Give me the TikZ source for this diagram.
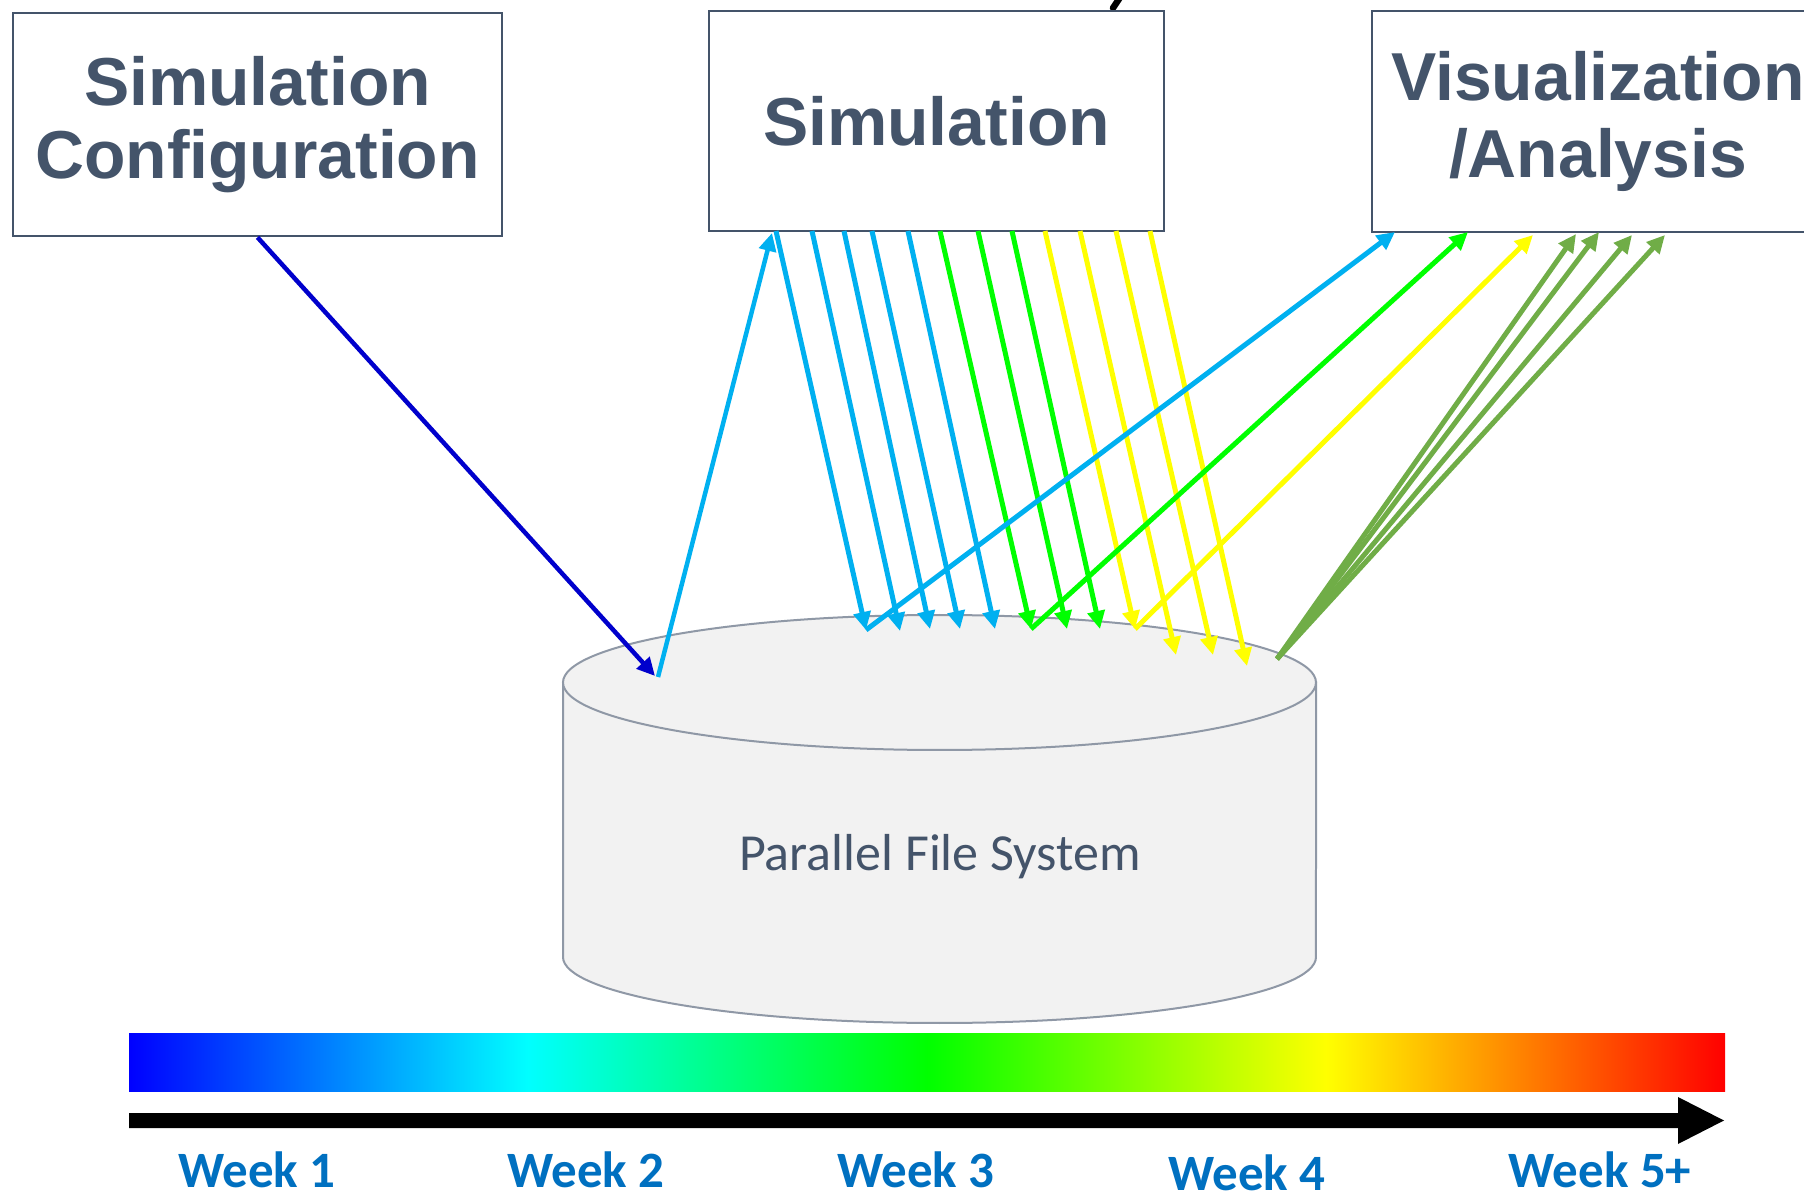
\documentclass[tikz,border=0pt]{standalone}
\usepackage{fontspec}
\setmainfont{Liberation Sans}
\newfontfamily\calfont{Carlito}
\usetikzlibrary{arrows.meta}
\definecolor{slate}{HTML}{44546A}
\definecolor{arrblue}{HTML}{00B0F0}
\definecolor{darkblue}{HTML}{0000CC}
\definecolor{arrgreen}{HTML}{00FF00}
\definecolor{arryellow}{HTML}{FFFF00}
\definecolor{olivegreen}{HTML}{70AD47}
\definecolor{weekblue}{HTML}{0070C0}
\definecolor{cylfill}{HTML}{F2F2F2}
\definecolor{cylline}{HTML}{8F98A6}
\pgfdeclarehorizontalshading{jetbar}{100bp}{color(0bp)=(blue); color(25bp)=(blue); color(37.5bp)=(cyan); color(50bp)=(green); color(62.5bp)=(yellow); color(75bp)=(red); color(100bp)=(red)}
\begin{document}
\begin{tikzpicture}[x=0.1mm,y=-0.1mm,
  box/.style={draw=slate, line width=0.27mm, fill=white, inner sep=0pt, align=center, text=slate,
    font=\fontsize{19.3}{20.8}\selectfont\bfseries},
  flow/.style={line width=0.5mm, -{Triangle[length=1.8mm,width=1.7mm]}},
  week/.style={text=weekblue, font=\calfont\fontsize{14.5}{16}\selectfont\bfseries, inner sep=0pt, text depth=0pt, anchor=base}]
\useasboundingbox (0,0) rectangle (1804,1200);
\fill[white] (0,0) rectangle (1804,1200);

% fragment of a cut-off glyph at the top
\draw[line width=0.65mm, black, line cap=round] (1113,8) -- (1121,-4);

% boxes
\node[box, minimum width=48.9mm, minimum height=22.3mm] (cfg) at (257.5,124.5) {Simulation\\Configuration};
\node[box, minimum width=45.5mm, minimum height=22mm] (sim) at (936.5,121) {Simulation};
\node[box, minimum width=45.2mm, minimum height=22.1mm, font=\fontsize{19.3}{21.9}\selectfont\bfseries] (vis) at (1598,121.5) {Visualization\\/Analysis};

% cylinder
\filldraw[fill=cylfill, draw=cylline, line width=0.2mm] (563,682.5) -- (563,957)
  arc[start angle=180, end angle=360, x radius=37.65mm, y radius=6.6mm] -- (1316,682.5) -- cycle;
\filldraw[fill=cylfill, draw=cylline, line width=0.2mm] (939.5,682.5) ellipse[x radius=37.65mm, y radius=6.75mm];
\node[font=\calfont\fontsize{14.8}{16}\selectfont, text=slate, inner sep=0pt, anchor=base] (pfs) at (940,870) {Parallel File System};

% config -> storage, storage -> simulation
\coordinate (pfsin) at (655,676);
\coordinate (pfsout) at (658,677);
\coordinate (simin) at (772,233);
\draw[flow, darkblue, line width=0.45mm] (cfg.south) -- (pfsin);
\draw[flow, arrblue, line width=0.45mm] (pfsout) -- (simin);

% simulation -> storage (outputs)
\foreach \i/\sx/\ex/\ey/\c in {1/776/866/630/arrblue, 2/812/900/631/arrblue, 3/844/930/629/arrblue,
  4/872/960/629/arrblue, 5/908/995/629/arrblue, 6/940/1031/629/arrgreen, 7/978/1067/629/arrgreen,
  8/1012/1100/629/arrgreen, 9/1045/1135/629/arryellow, 10/1080/1176/655/arryellow,
  11/1116/1213/655/arryellow, 12/1150/1247/666/arryellow}{
  \coordinate (s\i) at (\sx,231);
  \coordinate (t\i) at (\ex,\ey);
  \draw[flow, \c] (s\i) -- (t\i);
}

% storage -> visualization
\coordinate (va) at (1395,232);
\coordinate (vb) at (1468,232);
\coordinate (vc) at (1533,235);
\coordinate (ol) at (1277,659);
\coordinate (vd) at (1576,234);
\coordinate (ve) at (1599,232);
\coordinate (vf) at (1632,235);
\coordinate (vg) at (1665,235);
\draw[flow, arrblue] (t1) -- (va);
\draw[flow, arrgreen] (t6) -- (vb);
\draw[flow, arryellow] (t9) -- (vc);
\foreach \v in {vd,ve,vf,vg}{\draw[flow, olivegreen] (ol) -- (\v);}

% time bar
\shade[shading=jetbar] (129,1033) rectangle (1725,1091);
\fill[black] (129,1113) -- (1678,1113) -- (1678,1097) -- (1724,1120.5) -- (1678,1144) -- (1678,1128) -- (129,1128) -- cycle;

\node[week] (w1) at (257,1187) {Week 1};
\node[week] (w2) at (586,1187) {Week 2};
\node[week] (w3) at (916,1187) {Week 3};
\node[week] (w4) at (1247,1190) {Week 4};
\node[week] (w5) at (1600,1187) {Week 5+};
\end{tikzpicture}
\end{document}
